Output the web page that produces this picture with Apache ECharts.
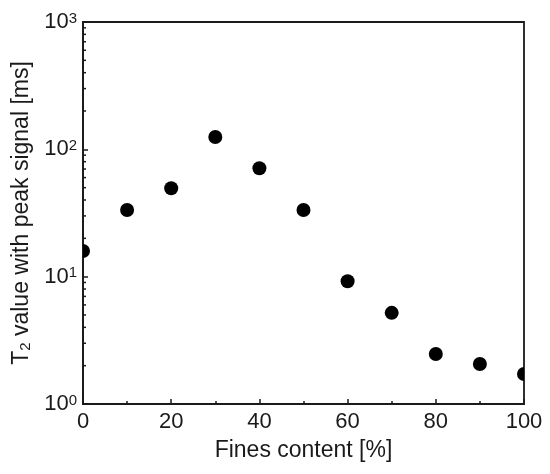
<!DOCTYPE html>
<html>
<head>
<meta charset="utf-8">
<script src="https://cdn.jsdelivr.net/npm/echarts@6/dist/echarts.min.js"></script>
<style>
  html, body { margin: 0; padding: 0; background: #fff; }
  #chart { width: 550px; height: 474px; }
</style>
</head>
<body>
<div id="chart"></div>
<script>
// fines content [%] and T2 at peak signal [ms]
const finesContent = [0, 10, 20, 30, 40, 50, 60, 70, 80, 90, 100];
const t2Peak = [15.9, 33.4, 49.5, 125, 71, 33.4, 9.2, 5.2, 2.47, 2.06, 1.72];

// log axis minor ticks (2..9 of each decade)
const minorTicks = [];
for (let d = 1; d < 1000; d *= 10) {
  for (let k = 2; k <= 9; k++) minorTicks.push([0, k * d]);
}

const font = "Liberation Sans, Arial, sans-serif";
const ink = "#1a1a1a";

const chart = echarts.init(document.getElementById("chart"), null, { renderer: "canvas" });

const option = {
  backgroundColor: "#fff",
  animation: false,
  grid: {
    left: 83, right: 26, top: 22, bottom: 70,
    show: true, borderColor: ink, borderWidth: 1.8, backgroundColor: "transparent"
  },
  xAxis: {
    type: "value",
    min: 0, max: 100, interval: 20,
    name: "Fines content [%]",
    nameLocation: "middle",
    nameGap: 35,
    nameTextStyle: { fontFamily: font, fontSize: 23, color: ink },
    axisLine: { show: true, lineStyle: { color: ink, width: 1.8 } },
    axisTick: { show: true, inside: true, length: 5, lineStyle: { color: ink, width: 1.5 } },
    minorTick: { show: true, splitNumber: 2, length: 3, lineStyle: { color: ink, width: 1.5 } },
    axisLabel: { fontFamily: font, fontSize: 22, color: ink, margin: 7 },
    splitLine: { show: false }
  },
  yAxis: {
    type: "log",
    logBase: 10,
    min: 1, max: 1000,
    name: "{n|T}{sub|2}{n| value with peak signal [ms]}",
    nameLocation: "middle",
    nameGap: 49,
    nameTextStyle: {
      fontFamily: font, color: ink,
      rich: {
        n: { fontFamily: font, fontSize: 23, lineHeight: 24, color: ink },
        sub: { fontFamily: font, fontSize: 15, lineHeight: 8, verticalAlign: "bottom", color: ink }
      }
    },
    axisLine: { show: true, lineStyle: { color: ink, width: 1.8 } },
    axisTick: { show: true, inside: true, length: 5, lineStyle: { color: ink, width: 1.5 } },
    axisLabel: {
      margin: 6,
      formatter: function (v) {
        return "{b|10}{s|" + Math.round(Math.log10(v)) + "}";
      },
      rich: {
        b: { fontFamily: font, fontSize: 22, lineHeight: 22, color: ink },
        s: { fontFamily: font, fontSize: 15, lineHeight: 8, verticalAlign: "top", color: ink }
      }
    },
    splitLine: { show: false }
  },
  series: [
    {
      type: "custom",
      silent: true,
      clip: false,
      data: minorTicks,
      renderItem: function (params, api) {
        const p = api.coord([api.value(0), api.value(1)]);
        return {
          type: "line",
          shape: { x1: p[0], y1: p[1], x2: p[0] + 3, y2: p[1] },
          style: { stroke: ink, lineWidth: 1.5 }
        };
      }
    },
    {
      type: "custom",
      data: finesContent.map((x, i) => [x, t2Peak[i]]),
      renderItem: function (params, api) {
        const p = api.coord([api.value(0), api.value(1)]);
        const cs = params.coordSys;
        return {
          type: "circle",
          shape: { cx: p[0], cy: p[1], r: 7 },
          style: { fill: "#000" },
          clipPath: {
            type: "rect",
            shape: { x: cs.x, y: cs.y, width: cs.width, height: cs.height }
          }
        };
      }
    }
  ]
};

chart.setOption(option);
</script>
</body>
</html>
